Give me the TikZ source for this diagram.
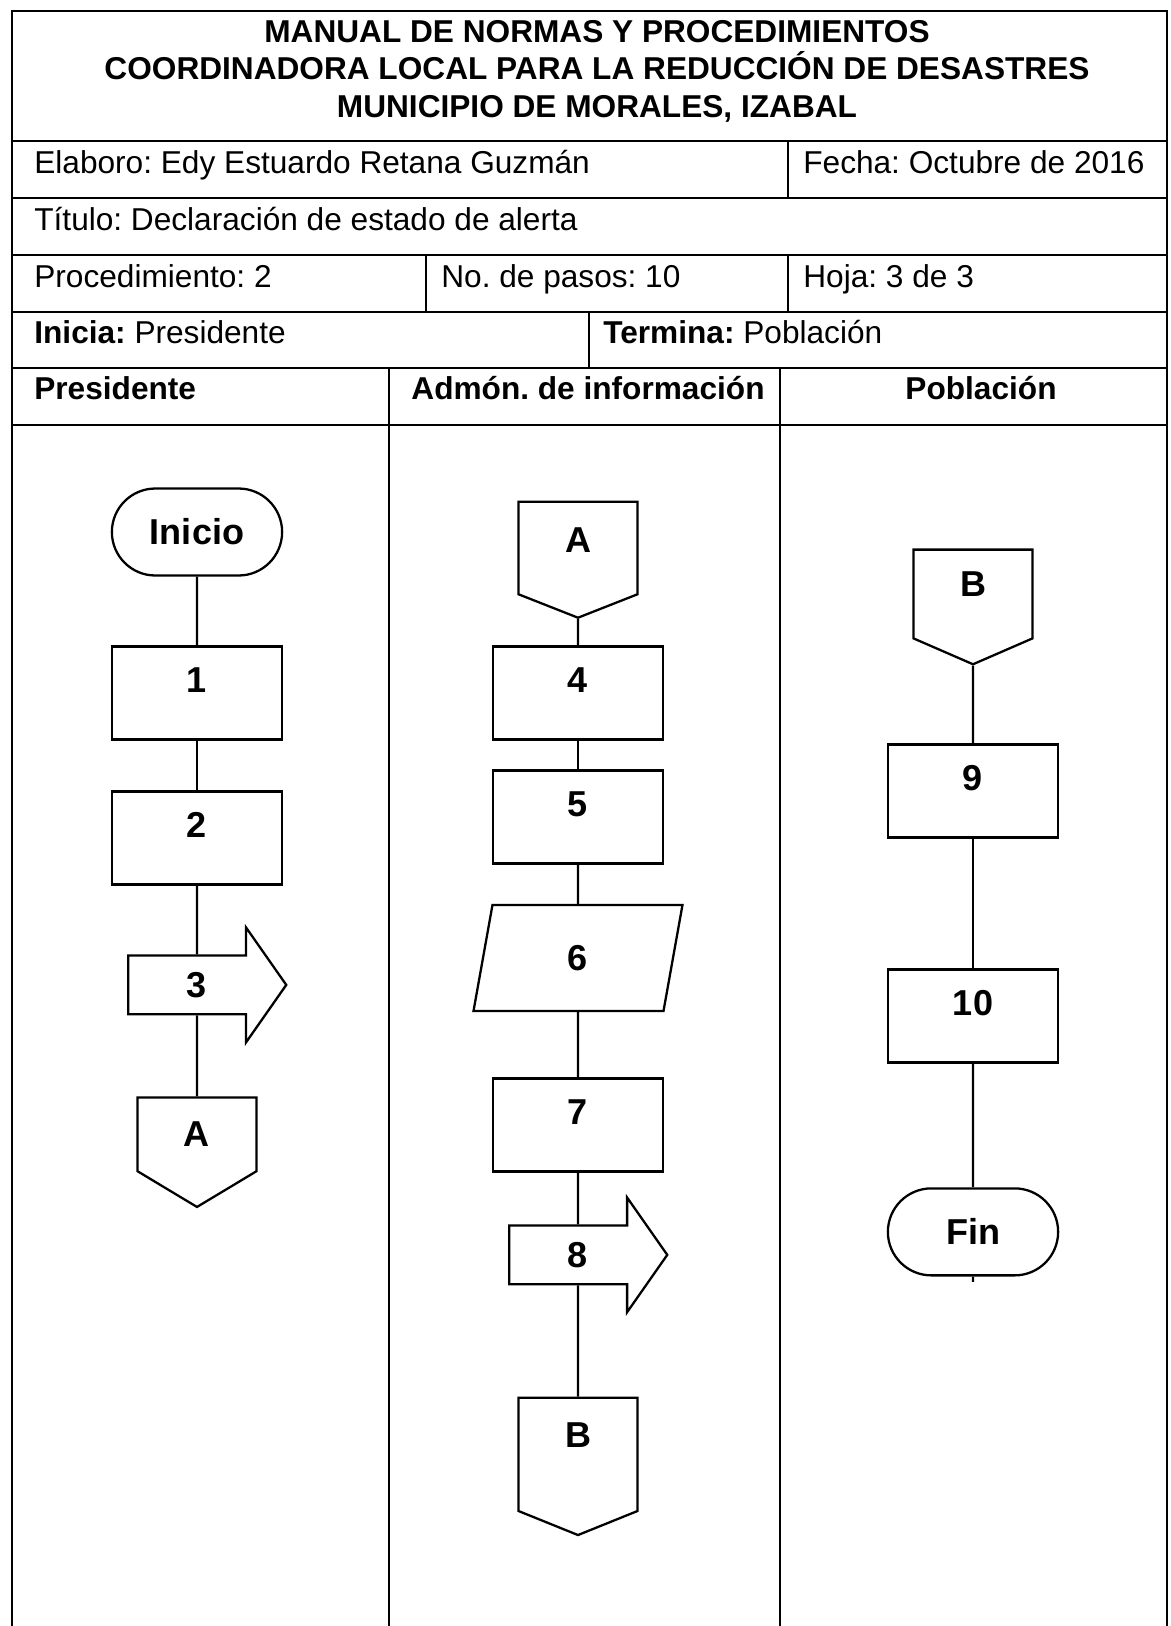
\documentclass[tikz,border=0pt]{standalone}
\usepackage{fontspec}
\setmainfont{Liberation Sans}
\frenchspacing
\usepackage{tikz}
\usetikzlibrary{shapes.misc,shapes.geometric,shapes.symbols,shapes.arrows}
\newcommand{\stepfont}{\fontsize{20.5}{24}\selectfont\bfseries}
\newcommand{\gridfont}{\fontsize{18}{20.5}\selectfont}
\tikzstyle{block} = [rectangle, draw, line width=1.3pt, minimum width=3.4cm, minimum height=1.86cm, text height=15pt, text depth=15pt, inner sep=0pt, font=\stepfont]
\tikzstyle{terminal} = [rounded rectangle, draw, line width=1.3pt, minimum width=3.64cm, minimum height=1.74cm, font=\stepfont]
\tikzstyle{io} = [trapezium, trapezium left angle=63, trapezium right angle=117, trapezium stretches body=true, draw, line width=1.3pt, minimum width=4.18cm, minimum height=2.12cm, font=\stepfont]
\tikzstyle{send} = [single arrow, draw, line width=1.3pt, single arrow head extend=0.56cm, single arrow tip angle=110, single arrow head indent=0pt, minimum height=3.16cm, minimum width=2.26cm, inner xsep=0pt, inner ysep=8.8pt, font=\stepfont]
\tikzstyle{offpage} = [signal, signal to=south, signal from=nowhere, signal pointer angle=130, draw, line width=1.3pt, minimum width=2.38cm, minimum height=2cm, font=\stepfont]
\tikzstyle{line} = [line width=1.3pt]
\tikzstyle{tableline} = [line width=1.1pt]
\tikzstyle{noblock} = [rectangle, draw = none, inner sep=0pt, font=\gridfont]

\begin{document}
\begin{tikzpicture}[x=0.02cm, y=-0.02cm]
        \useasboundingbox (0,0) rectangle (1170,1626);
        % frame of the sheet
        \draw[tableline] (12,1626) -- (12,11) -- (1167,11) -- (1167,1626);
        \foreach \y in {141,198,255,312,368,425}
            \draw[tableline] (12,\y) -- (1167,\y);
        \draw[tableline] (788,141) -- (788,198);
        \draw[tableline] (426,255) -- (426,312);
        \draw[tableline] (788,255) -- (788,312);
        \draw[tableline] (589,312) -- (589,368);
        \draw[tableline] (389,368) -- (389,1626);
        \draw[tableline] (780,368) -- (780,1626);
        % heading
        \node(titleA) [noblock, anchor=base, font=\gridfont\bfseries] at (597,42) {MANUAL DE NORMAS Y PROCEDIMIENTOS};
        \node(titleB) [noblock, anchor=base, font=\gridfont\bfseries] at (597,79) {COORDINADORA LOCAL PARA LA REDUCCIÓN DE DESASTRES};
        \node(titleC) [noblock, anchor=base, font=\gridfont\bfseries] at (597,117) {MUNICIPIO DE MORALES, IZABAL};
        \node(elaboro) [noblock, anchor=base west] at (34,173) {Elaboro: Edy Estuardo Retana Guzmán};
        \node(fecha) [noblock, anchor=base west] at (803,173) {Fecha: Octubre de 2016};
        \node(titulo) [noblock, anchor=base west] at (34,230) {Título: Declaración de estado de alerta};
        \node(proc) [noblock, anchor=base west] at (34,287) {Procedimiento: 2};
        \node(pasos) [noblock, anchor=base west] at (441,287) {No. de pasos: 10};
        \node(hoja) [noblock, anchor=base west] at (803,287) {Hoja: 3 de 3};
        \node(inicia) [noblock, anchor=base west] at (34,343) {\textbf{Inicia:} Presidente};
        \node(termina) [noblock, anchor=base west] at (603,343) {\textbf{Termina:} Población};
        \node(lanePres) [noblock, anchor=base west, font=\gridfont\bfseries] at (34,399) {Presidente};
        \node(laneAdmon) [noblock, anchor=base, font=\gridfont\bfseries] at (588,399) {Admón. de información};
        \node(lanePobl) [noblock, anchor=base, font=\gridfont\bfseries] at (981,399) {Población};
        % Presidente
        \node(inicio) [terminal] at (197,532) {Inicio};
        \node(p1) [block, below of = inicio, node distance = 3.22cm] {1};
        \node(p2) [block, below of = p1, node distance = 2.9cm] {2};
        \node(p3) [send, below of = p2, node distance = 2.94cm] {3};
        \node(outA) [offpage, signal pointer angle=118, minimum height=1.7cm, below of = p3, node distance = 2.99cm] {A};
        % Admon. de informacion
        \node(inA) [offpage, signal pointer angle=137, text depth=9pt] at (578,548) {A};
        \node(a4) [block, below of = inA, node distance = 2.9cm] {4};
        \node(a5) [block, below of = a4, node distance = 2.48cm] {5};
        \node(a6) [io, below of = a5, node distance = 2.82cm] {6};
        \node(a7) [block, below of = a6, node distance = 3.34cm] {7};
        \node(a8) [send, below of = a7, node distance = 2.6cm] {8};
        \node(outB) [offpage, signal pointer angle=136, minimum height=2.42cm, text depth=22pt, below of = a8, node distance = 3.99cm] {B};
        % Poblacion
        \node(inB) [offpage, signal pointer angle=133, minimum height=1.94cm, text depth=11pt] at (973,594) {B};
        \node(b9) [block, below of = inB, node distance = 3.94cm] {9};
        \node(b10) [block, below of = b9, node distance = 4.5cm] {10};
        \node(fin) [terminal] [below of = b10, node distance = 4.32cm] {Fin};
        \coordinate[below of = fin, node distance = 1.0cm] (finstub);
        \draw[line] (inicio) -- (p1);
        \draw[line] (p1) -- (p2);
        \draw[line] (p2) -- (p3);
        \draw[line] (p3) -- (outA);
        \draw[line] (inA) -- (a4);
        \draw[line] (a4) -- (a5);
        \draw[line] (a5) -- (a6);
        \draw[line] (a6) -- (a7);
        \draw[line] (a7) -- (a8);
        \draw[line] (a8) -- (outB);
        \draw[line] (inB) -- (b9);
        \draw[line] (b9) -- (b10);
        \draw[line] (b10) -- (fin);
        \draw[line] (fin) -- (finstub);
\end{tikzpicture}
\end{document}
